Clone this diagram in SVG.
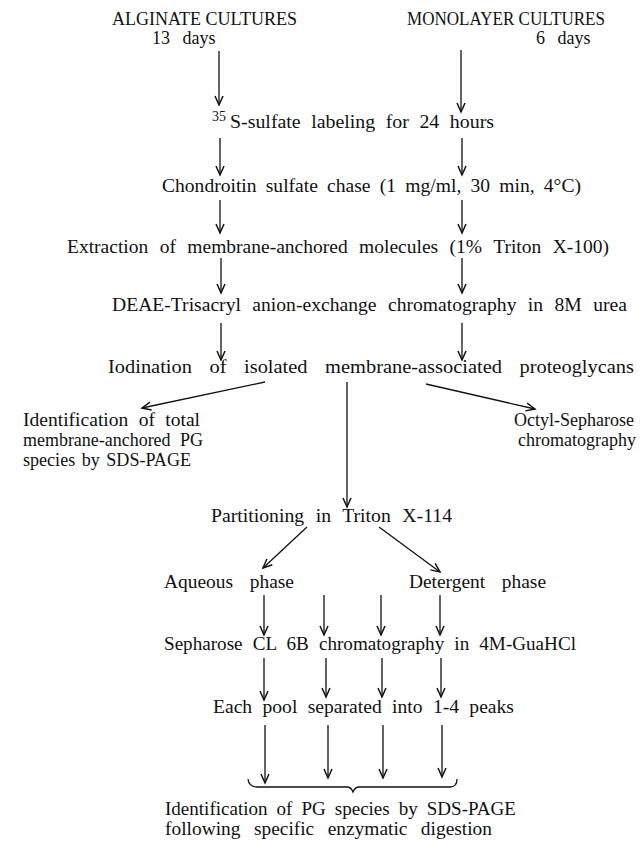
<svg xmlns="http://www.w3.org/2000/svg" width="644" height="843" viewBox="0 0 644 843">
<style>
text{font-family:"Liberation Serif","Times New Roman",serif;font-size:18px;fill:#111}
.sup{font-size:14px}
.c{stroke:#111;stroke-width:1.3;fill:none}
</style>
<defs>
<marker id="ah" markerWidth="12" markerHeight="12" refX="0" refY="0" orient="auto" markerUnits="userSpaceOnUse" overflow="visible">
<path d="M-9,-4 L0,0 L-9,4" fill="none" stroke="#111" stroke-width="1.5"/>
</marker>
</defs>
<rect width="644" height="843" fill="#fff"/>
<g id="alginate"><text x="112" y="25" textLength="185" lengthAdjust="spacingAndGlyphs">ALGINATE CULTURES</text><text x="152" y="44" word-spacing="8">13 days</text></g>
<g id="monolayer"><text x="407" y="25" textLength="198" lengthAdjust="spacingAndGlyphs">MONOLAYER CULTURES</text><text x="536" y="44" word-spacing="8">6 days</text></g>
<g id="labeling"><text class="sup" x="212" y="121">35</text><text x="230" y="128" word-spacing="5" textLength="264" lengthAdjust="spacingAndGlyphs">S-sulfate labeling for 24 hours</text></g>
<g id="chase"><text x="162" y="192" word-spacing="4" textLength="419" lengthAdjust="spacingAndGlyphs">Chondroitin sulfate chase (1 mg/ml, 30 min, 4°C)</text></g>
<g id="extraction"><text x="67" y="253" word-spacing="6" textLength="542" lengthAdjust="spacingAndGlyphs">Extraction of membrane-anchored molecules (1% Triton X-100)</text></g>
<g id="deae"><text x="112" y="311" word-spacing="6" textLength="515" lengthAdjust="spacingAndGlyphs">DEAE-Trisacryl anion-exchange chromatography in 8M urea</text></g>
<g id="iodination"><text x="108" y="373" word-spacing="11" textLength="526" lengthAdjust="spacingAndGlyphs">Iodination of isolated membrane-associated proteoglycans</text></g>
<g id="identification-total"><text x="23" y="426" word-spacing="5" textLength="177" lengthAdjust="spacingAndGlyphs">Identification of total</text><text x="23" y="446" word-spacing="5" textLength="180" lengthAdjust="spacingAndGlyphs">membrane-anchored PG</text><text x="23" y="466" word-spacing="2" textLength="168" lengthAdjust="spacingAndGlyphs">species by SDS-PAGE</text></g>
<g id="octyl"><text x="514" y="426">Octyl-Sepharose</text><text x="518" y="446">chromatography</text></g>
<g id="partitioning"><text x="211" y="522" word-spacing="6" textLength="241" lengthAdjust="spacingAndGlyphs">Partitioning in Triton X-114</text></g>
<g id="aqueous"><text x="164" y="588" word-spacing="11" textLength="130" lengthAdjust="spacingAndGlyphs">Aqueous phase</text></g>
<g id="detergent"><text x="409" y="588" word-spacing="11" textLength="137" lengthAdjust="spacingAndGlyphs">Detergent phase</text></g>
<g id="sepharose"><text x="164" y="650" word-spacing="5" textLength="412" lengthAdjust="spacingAndGlyphs">Sepharose CL 6B chromatography in 4M-GuaHCl</text></g>
<g id="pool"><text x="213" y="713" word-spacing="5" textLength="301" lengthAdjust="spacingAndGlyphs">Each pool separated into 1-4 peaks</text></g>
<g id="identification-pg"><text x="165" y="815" word-spacing="4" textLength="351" lengthAdjust="spacingAndGlyphs">Identification of PG species by SDS-PAGE</text><text x="165" y="835" word-spacing="8" textLength="327" lengthAdjust="spacingAndGlyphs">following specific enzymatic digestion</text></g>
<g id="connectors" class="c">
<line x1="219" y1="51" x2="219" y2="105" marker-end="url(#ah)"/>
<line x1="461" y1="50" x2="461" y2="112" marker-end="url(#ah)"/>
<line x1="220" y1="138" x2="220" y2="175" marker-end="url(#ah)"/>
<line x1="462" y1="138" x2="462" y2="175" marker-end="url(#ah)"/>
<line x1="220" y1="200" x2="220" y2="233" marker-end="url(#ah)"/>
<line x1="462" y1="200" x2="462" y2="233" marker-end="url(#ah)"/>
<line x1="221" y1="258" x2="221" y2="293" marker-end="url(#ah)"/>
<line x1="462" y1="258" x2="462" y2="293" marker-end="url(#ah)"/>
<line x1="221" y1="323" x2="221" y2="360" marker-end="url(#ah)"/>
<line x1="462" y1="323" x2="462" y2="360" marker-end="url(#ah)"/>
<line x1="265" y1="382" x2="142" y2="408" marker-end="url(#ah)"/>
<line x1="426" y1="384" x2="535" y2="409" marker-end="url(#ah)"/>
<line x1="347" y1="382" x2="347" y2="507" marker-end="url(#ah)"/>
<line x1="307" y1="527" x2="263" y2="568" marker-end="url(#ah)"/>
<line x1="379" y1="527" x2="440" y2="572" marker-end="url(#ah)"/>
<line x1="264" y1="595" x2="264" y2="635" marker-end="url(#ah)"/>
<line x1="324" y1="595" x2="324" y2="635" marker-end="url(#ah)"/>
<line x1="381" y1="595" x2="381" y2="635" marker-end="url(#ah)"/>
<line x1="440" y1="595" x2="440" y2="635" marker-end="url(#ah)"/>
<line x1="264" y1="658" x2="264" y2="700" marker-end="url(#ah)"/>
<line x1="326" y1="658" x2="326" y2="697" marker-end="url(#ah)"/>
<line x1="382" y1="658" x2="382" y2="697" marker-end="url(#ah)"/>
<line x1="441" y1="658" x2="441" y2="697" marker-end="url(#ah)"/>
<line x1="265" y1="725" x2="265" y2="783" marker-end="url(#ah)"/>
<line x1="328" y1="725" x2="328" y2="778" marker-end="url(#ah)"/>
<line x1="383" y1="725" x2="383" y2="778" marker-end="url(#ah)"/>
<line x1="442" y1="725" x2="442" y2="777" marker-end="url(#ah)"/>
<path d="M248,779 Q249,787 257,787 L347,787 Q351,787 353,792 Q355,787 359,787 L450,787 Q457,787 457,779"/>
</g>
</svg>
